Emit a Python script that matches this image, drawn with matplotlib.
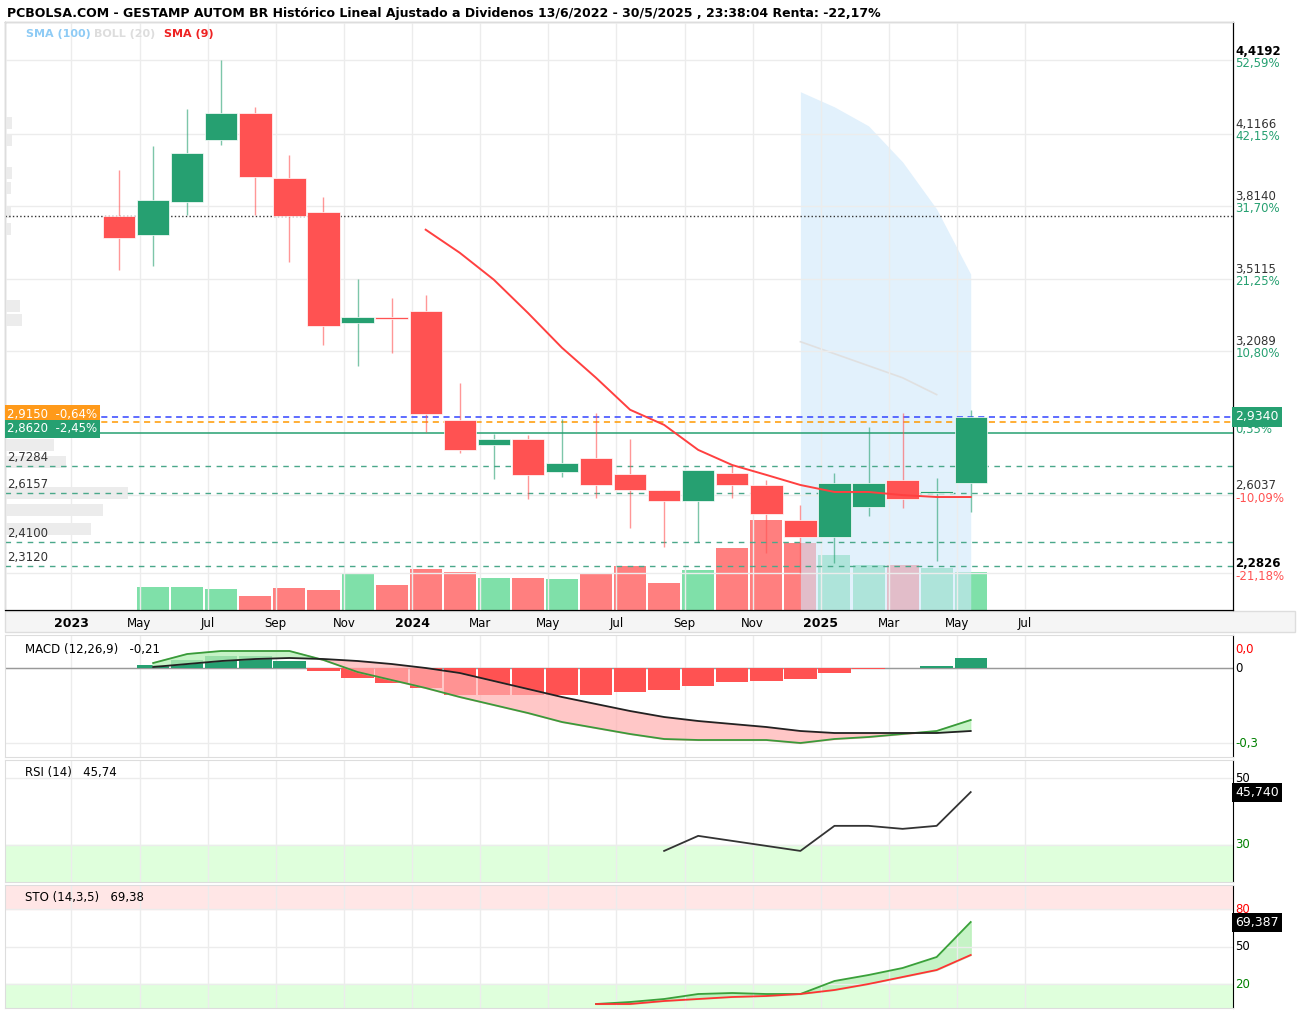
import numpy as np
import matplotlib
matplotlib.use("Agg")
import matplotlib.pyplot as plt
import matplotlib.transforms as mtransforms

# ---- data ----
x_labels = ['2023', 'May', 'Jul', 'Sep', 'Nov', '2024', 'Mar', 'May', 'Jul', 'Sep', 'Nov', '2025', 'Mar', 'May', 'Jul']
x_bold = ['2023', '2024', '2025']

opens = [3.745, 3.665, 3.803, 4.061, 4.173, 3.903, 3.761, 3.299, 3.324, 3.349, 2.895, 2.791, 2.816,
         2.678, 2.736, 2.670, 2.603, 2.557, 2.674, 2.624, 2.478, 2.407, 2.532, 2.645, 2.591, 2.632]
highs = [3.936, 4.036, 4.190, 4.390, 4.198, 3.998, 3.824, 3.482, 3.403, 3.416, 3.049, 2.836, 2.832,
         2.899, 2.924, 2.816, 2.603, 2.653, 2.707, 2.645, 2.541, 2.674, 2.866, 2.924, 2.653, 2.936]
lows = [3.520, 3.536, 3.749, 4.040, 3.749, 3.553, 3.207, 3.120, 3.174, 2.845, 2.757, 2.649, 2.566,
        2.657, 2.570, 2.445, 2.366, 2.387, 2.570, 2.341, 2.257, 2.299, 2.495, 2.528, 2.307, 2.511]
closes = [3.653, 3.811, 4.007, 4.173, 3.907, 3.745, 3.286, 3.324, 3.316, 2.920, 2.770, 2.816, 2.666,
          2.716, 2.624, 2.603, 2.557, 2.686, 2.624, 2.503, 2.407, 2.632, 2.632, 2.566, 2.599, 2.907]
volume = [np.nan, 23, 23, 21, 14, 22, 20, 37, 25, 41, 38, 32, 32, 31, 36, 44, 27, 40, 62, 90, 67, 55,
          45, 45, 42, 38]
volume_up = [False, True, True, True, False, False, False, True, False, False, False, True, False,
             True, False, False, False, True, False, False, False, True, True, False, True, True]

sma9 = [np.nan] * 9 + [3.686, 3.590, 3.478, 3.340, 3.195, 3.070, 2.937, 2.874, 2.770, 2.707,
                       2.666, 2.624, 2.595, 2.595, 2.582, 2.574, 2.574]
sma100_top = [np.nan] * 20 + [4.260, 4.197, 4.118, 3.968, 3.772, 3.501]
boll_line = [np.nan] * 20 + [3.22, 3.17, 3.12, 3.07, 3.00, np.nan]

# price levels drawn as horizontal lines
level_blue = 2.907
level_orange = 2.887
level_green = 2.841
level_dotted = 3.745
support_levels = [2.703, 2.591, 2.387, 2.287]
support_names = ['2,7284', '2,6157', '2,4100', '2,3120']

# right axis gridlines and their labels
grid_levels = [4.390, 4.086, 3.786, 3.482, 3.182, 2.582, 2.257]
grid_names = ['4,4192', '4,1166', '3,8140', '3,5115', '3,2089', '2,6037', '2,2826']
grid_pcts = ['52,59%', '42,15%', '31,70%', '21,25%', '10,80%', '-10,09%', '-21,18%']

macd = [np.nan, 0.020, 0.056, 0.068, 0.068, 0.068, 0.032, -0.016, -0.048, -0.080, -0.116, -0.148,
        -0.180, -0.216, -0.240, -0.264, -0.284, -0.288, -0.288, -0.288, -0.300, -0.284, -0.276,
        -0.264, -0.252, -0.208]
signal = [np.nan, 0.004, 0.016, 0.028, 0.036, 0.040, 0.036, 0.028, 0.016, 0.000, -0.020, -0.052,
          -0.084, -0.116, -0.144, -0.172, -0.196, -0.212, -0.224, -0.236, -0.252, -0.260, -0.260,
          -0.260, -0.260, -0.252]
hist = [np.nan, 0.012, 0.032, 0.048, 0.048, 0.028, -0.012, -0.040, -0.060, -0.080, -0.108, -0.108,
        -0.108, -0.108, -0.108, -0.096, -0.088, -0.072, -0.056, -0.052, -0.044, -0.020, -0.004,
        0.000, 0.008, 0.040]

rsi = [np.nan] * 16 + [28.2, 32.7, 31.2, 29.7, 28.2, 35.7, 35.7, 34.8, 35.7, 45.8]
sto_k = [np.nan] * 14 + [4.0, 5.6, 8.0, 12.0, 12.8, 12.0, 12.0, 22.4, 27.2, 32.8, 41.6, 69.6]
sto_d = [np.nan] * 14 + [4.0, 4.0, 6.4, 8.0, 9.6, 10.4, 12.0, 15.2, 20.0, 25.6, 31.2, 43.2]

# ---- layout ----
W, H = 1299, 1013
GREEN = '#26a071'
RED = '#ff5252'
x = np.arange(len(opens)) + 1.4
xlim = (-1.95, 34.1)
tick_pos = np.arange(len(x_labels)) * 2.0

fig = plt.figure(figsize=(W / 100, H / 100), dpi=100)
plt.rcParams['font.family'] = 'DejaVu Sans'


def px_axes(l, t, r, b):
    return fig.add_axes([l / W, 1 - b / H, (r - l) / W, (b - t) / H])


def style(ax):
    ax.set_xlim(*xlim)
    ax.set_xticks(tick_pos)
    ax.tick_params(length=0, labelleft=False, labelbottom=False, labelright=False)
    ax.grid(True, color='#ececec', lw=1)
    for s in ['top', 'left', 'bottom']:
        ax.spines[s].set_color('#dddddd')
    ax.spines['right'].set_color('black')


# main price panel
ax = px_axes(5, 22, 1233, 610)
style(ax)
ax.set_ylim(2.104, 4.55)
ax.set_yticks(grid_levels)
ax.spines['bottom'].set_color('black')

# volume on a hidden twin scale
axv = ax.twinx()
axv.set_ylim(0, 588)
axv.set_yticks([])
axv.bar(x, volume, width=0.94, color=['#7fe0a9' if u else '#ff7f7f' for u in volume_up], zorder=1)
ax.set_zorder(axv.get_zorder() + 1)
ax.patch.set_visible(False)

# SMA 100 band and BOLL
ax.fill_between(x, sma100_top, 2.104, color='#cfe8fb', alpha=0.6, lw=0, zorder=1)
ax.plot(x, boll_line, color='#e0e0e0', lw=1.2, zorder=1)

# levels
trans = mtransforms.blended_transform_factory(ax.transAxes, ax.transData)
ax.axhline(level_dotted, color='#333333', ls=':', lw=1)
ax.axhline(level_blue, color='#3344ff', ls=(0, (4, 3)), lw=1.1)
ax.axhline(level_orange, color='#ff9900', ls=(0, (4, 3)), lw=1.1)
ax.axhline(level_green, color=GREEN, lw=1.1)
for lv in support_levels:
    ax.axhline(lv, color='#4aa88a', ls=(0, (4, 4)), lw=1)

# left grey volume profile
for yy, ww in [(4.13, 0.006), (4.06, 0.006), (3.92, 0.006), (3.86, 0.005), (3.76, 0.005),
               (3.69, 0.005), (3.37, 0.012), (3.31, 0.014), (2.79, 0.04), (2.72, 0.05),
               (2.59, 0.1), (2.52, 0.08), (2.44, 0.07)]:
    ax.barh(yy, ww, height=0.05, left=0, color='#ececec', transform=trans, zorder=0)

# candles
for xi, o, h, l, c in zip(x, opens, highs, lows, closes):
    col = GREEN if c >= o else RED
    ax.vlines(xi, l, h, color=col, lw=1, alpha=0.6, zorder=3)
    ax.bar(xi, abs(c - o) if abs(c - o) > 0.008 else 0.008, bottom=min(o, c), width=0.95,
           color=col, edgecolor='white', lw=0.5, zorder=4)
ax.plot(x, sma9, color='#ff4040', lw=1.4, zorder=5)

# right labels
for v, a, b in zip(grid_levels, grid_names, grid_pcts):
    bold = a in ('4,4192', '2,2826')
    ax.text(1.002, v + 0.012, a, transform=trans, fontsize=8.5, color='black' if bold else '#333',
            va='bottom', fontweight='bold' if bold else 'normal')
    ax.text(1.002, v + 0.014, b, transform=trans, fontsize=8.5, color=RED if b.startswith('-') else GREEN,
            va='top')
ax.text(1.002, level_blue, '2,9340', transform=trans, fontsize=9, color='white', va='center',
        bbox=dict(boxstyle='square,pad=0.25', fc=GREEN, ec='none'), clip_on=False, zorder=6)
ax.text(1.002, 2.853, '0,35%', transform=trans, fontsize=8.5, color=GREEN, va='center')

# left labels
ax.text(0.002, level_blue + 0.012, '2,9150  -0,64%', transform=trans, fontsize=8.5, color='white',
        va='center', bbox=dict(boxstyle='square,pad=0.2', fc='#ff9a1a', ec='none'))
ax.text(0.002, level_orange - 0.03, '2,8620  -2,45%', transform=trans, fontsize=8.5, color='white',
        va='center', bbox=dict(boxstyle='square,pad=0.2', fc=GREEN, ec='none'))
for lv, s in zip(support_levels, support_names):
    ax.text(0.002, lv + 0.01, s, transform=trans, fontsize=8.5, color='#333', va='bottom')

# x tick labels
for tp, lab in zip(tick_pos, x_labels):
    ax.text(tp, -0.012, lab, transform=mtransforms.blended_transform_factory(ax.transData, ax.transAxes),
            ha='center', va='top', fontsize=9 if lab in x_bold else 8.5,
            fontweight='bold' if lab in x_bold else 'normal')
fig.patches.append(plt.Rectangle((5 / W, 1 - 632 / H), 1290 / W, 21 / H, transform=fig.transFigure,
                                 fc='#f5f5f5', ec='#dddddd', zorder=-1))

fig.text(7 / W, 1 - 14 / H, 'PCBOLSA.COM - GESTAMP AUTOM BR Histórico Lineal Ajustado a Dividenos '
         '13/6/2022 - 30/5/2025 , 23:38:04 Renta: -22,17%', fontsize=9, fontweight='bold', va='center')
fig.text(26 / W, 1 - 34 / H, 'SMA (100)', fontsize=8, fontweight='bold', color='#8ecbf5', va='center')
fig.text(94 / W, 1 - 34 / H, 'BOLL (20)', fontsize=8, fontweight='bold', color='#dddddd', va='center')
fig.text(164 / W, 1 - 34 / H, 'SMA (9)', fontsize=8, fontweight='bold', color='#ee2222', va='center')

# MACD panel
am = px_axes(5, 635, 1233, 757)
style(am)
am.set_ylim(-0.356, 0.132)
am.set_yticks([0.0, -0.3])
am.axhline(0, color='#999999', lw=1)
hist_arr = np.array(hist)
am.bar(x, hist_arr, width=0.95, color=[GREEN if h >= 0 else RED for h in np.nan_to_num(hist_arr)], zorder=2)
m = np.array(macd)
s = np.array(signal)
am.fill_between(x, m, s, where=m >= s, color='#b8f0b8', alpha=0.8, interpolate=True, zorder=3)
am.fill_between(x, m, s, where=m < s, color='#ffb0b0', alpha=0.7, interpolate=True, zorder=3)
am.plot(x, m, color='#3a9a3a', lw=1.3, zorder=4)
am.plot(x, s, color='#222222', lw=1.3, zorder=4)
am.text(0.016, 0.88, 'MACD (12,26,9)   -0,21', transform=am.transAxes, fontsize=8.5, va='center')
tm = mtransforms.blended_transform_factory(am.transAxes, am.transData)
am.text(1.002, 0.075, '0,0', transform=tm, color='red', fontsize=8.5, va='center')
am.text(1.002, 0.0, '0', transform=tm, fontsize=8.5, va='center')
am.text(1.002, -0.3, '-0,3', transform=tm, color='green', fontsize=8.5, va='center')

# RSI panel
ar = px_axes(5, 760, 1233, 882)
style(ar)
ar.set_ylim(18.9, 55.4)
ar.set_yticks([50, 30])
ar.axhspan(0, 30, color='#dfffdc', zorder=0)
ar.plot(x, rsi, color='#333333', lw=1.3)
tr = mtransforms.blended_transform_factory(ar.transAxes, ar.transData)
ar.text(1.002, 50, '50', transform=tr, fontsize=8.5, va='center')
ar.text(1.002, 30, '30', transform=tr, fontsize=8.5, va='center', color='green')
ar.text(1.002, 45.74, '45,740', transform=tr, fontsize=9, va='center', color='white',
        bbox=dict(boxstyle='square,pad=0.25', fc='black', ec='none'))
ar.text(0.016, 0.9, 'RSI (14)   45,74', transform=ar.transAxes, fontsize=8.5, va='center')

# STO panel
ast = px_axes(5, 885, 1233, 1008)
style(ast)
ast.set_ylim(0.8, 99.2)
ast.set_yticks([80, 50, 20])
ast.axhspan(80, 100, color='#ffe6e6', zorder=0)
ast.axhspan(0, 20, color='#dfffdc', zorder=0)
k = np.array(sto_k)
d = np.array(sto_d)
ast.fill_between(x, k, d, where=k >= d, color='#b8f0b8', alpha=0.8, interpolate=True)
ast.plot(x, k, color='#3aa03a', lw=1.3)
ast.plot(x, d, color='#ff3333', lw=1.3)
ts = mtransforms.blended_transform_factory(ast.transAxes, ast.transData)
ast.text(1.002, 80, '80', transform=ts, fontsize=8.5, va='center', color='red')
ast.text(1.002, 50, '50', transform=ts, fontsize=8.5, va='center')
ast.text(1.002, 20, '20', transform=ts, fontsize=8.5, va='center', color='green')
ast.text(1.002, 69.387, '69,387', transform=ts, fontsize=9, va='center', color='white',
         bbox=dict(boxstyle='square,pad=0.25', fc='black', ec='none'))
ast.text(0.016, 0.9, 'STO (14,3,5)   69,38', transform=ast.transAxes, fontsize=8.5, va='center')

fig.savefig('out.png', dpi=100)
